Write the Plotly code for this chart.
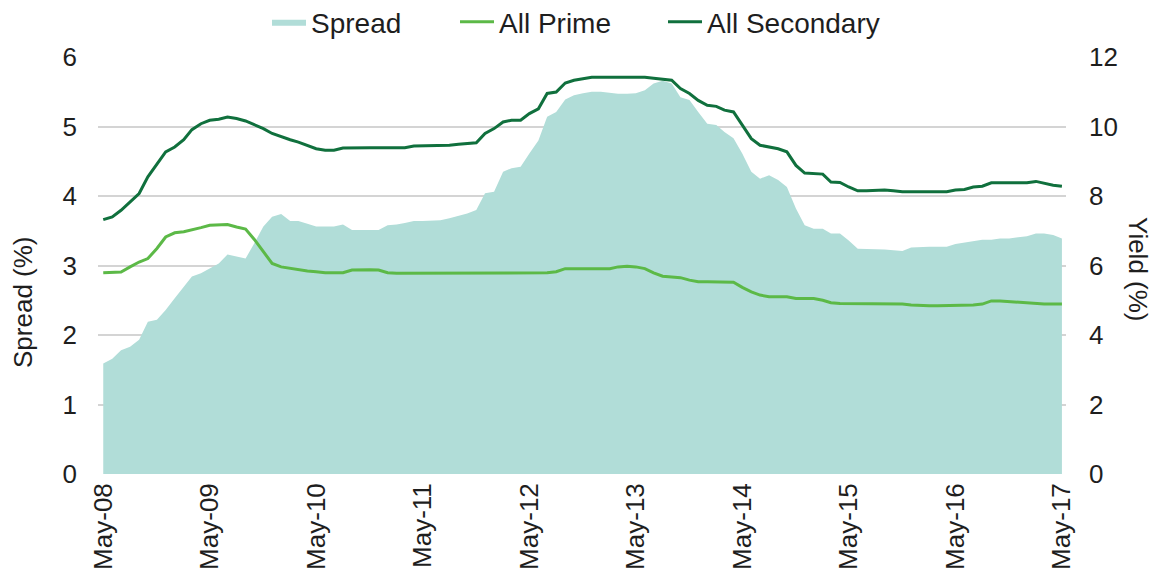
import pandas as pd
import plotly.graph_objects as go

# Monthly observations, May-2008 .. May-2017
months = pd.date_range("2008-05-01", periods=109, freq="MS")

spread = [
    1.59, 1.66, 1.78, 1.83, 1.93, 2.19, 2.22, 2.36, 2.53, 2.69, 2.84, 2.89, 2.96, 3.03, 3.16, 3.13, 3.10, 3.32, 3.56, 3.70, 3.74, 3.64,
    3.64, 3.60, 3.56, 3.56, 3.56, 3.59, 3.51, 3.51, 3.51, 3.51, 3.58, 3.59, 3.61, 3.64, 3.64, 3.64, 3.65, 3.68, 3.71, 3.75, 3.80, 4.04,
    4.06, 4.35, 4.40, 4.42, 4.61, 4.80, 5.14, 5.21, 5.39, 5.45, 5.48, 5.50, 5.50, 5.48, 5.47, 5.47, 5.48, 5.52, 5.62, 5.66, 5.62, 5.42,
    5.38, 5.21, 5.04, 5.02, 4.92, 4.83, 4.61, 4.35, 4.25, 4.30, 4.23, 4.13, 3.82, 3.58, 3.53, 3.53, 3.46, 3.46, 3.36, 3.24, 3.24, 3.24,
    3.23, 3.22, 3.21, 3.26, 3.27, 3.27, 3.27, 3.27, 3.31, 3.33, 3.36, 3.37, 3.37, 3.39, 3.39, 3.40, 3.42, 3.46, 3.46, 3.44, 3.39,
]

all_prime = [
    5.79, 5.79, 5.81, 5.96, 6.10, 6.20, 6.49, 6.82, 6.94, 6.97, 7.02, 7.09, 7.16, 7.18, 7.18, 7.11, 7.05, 6.75, 6.39, 6.06, 5.96, 5.92,
    5.87, 5.84, 5.82, 5.79, 5.79, 5.79, 5.87, 5.88, 5.88, 5.87, 5.79, 5.78, 5.78, 5.78, 5.78, 5.78, 5.78, 5.78, 5.78, 5.78, 5.77, 5.77,
    5.77, 5.77, 5.77, 5.77, 5.77, 5.77, 5.79, 5.82, 5.91, 5.91, 5.91, 5.91, 5.91, 5.91, 5.96, 5.98, 5.96, 5.91, 5.79, 5.69, 5.67, 5.65,
    5.58, 5.53, 5.53, 5.53, 5.53, 5.52, 5.37, 5.24, 5.15, 5.10, 5.10, 5.10, 5.05, 5.05, 5.05, 5.00, 4.93, 4.91, 4.91, 4.91, 4.91, 4.91,
    4.91, 4.91, 4.89, 4.86, 4.84, 4.84, 4.84, 4.84, 4.84, 4.84, 4.86, 4.89, 4.98, 4.98, 4.96, 4.94, 4.93, 4.91, 4.89, 4.89, 4.89,
]

all_secondary = [
    7.32, 7.40, 7.59, 7.83, 8.07, 8.55, 8.93, 9.27, 9.41, 9.62, 9.91, 10.08, 10.18, 10.21, 10.27, 10.23, 10.16, 10.06, 9.94, 9.80, 9.70, 9.62,
    9.55, 9.46, 9.36, 9.32, 9.32, 9.38, 9.39, 9.39, 9.39, 9.39, 9.39, 9.39, 9.39, 9.44, 9.44, 9.44, 9.44, 9.46, 9.49, 9.51, 9.53, 9.80,
    9.94, 10.13, 10.18, 10.18, 10.37, 10.51, 10.95, 10.99, 11.25, 11.33, 11.38, 11.42, 11.42, 11.42, 11.42, 11.42, 11.42, 11.42, 11.39, 11.35, 11.33, 11.09,
    10.95, 10.75, 10.61, 10.58, 10.47, 10.42, 10.03, 9.65, 9.46, 9.41, 9.36, 9.27, 8.88, 8.66, 8.65, 8.63, 8.40, 8.39, 8.26, 8.15, 8.15, 8.16,
    8.17, 8.15, 8.12, 8.12, 8.12, 8.12, 8.12, 8.12, 8.17, 8.19, 8.26, 8.28, 8.38, 8.38, 8.38, 8.38, 8.38, 8.42, 8.36, 8.31, 8.28,
]

tick_dates = pd.date_range("2008-05-01", "2017-05-01", freq="12MS")
tick_labels = ["May-08", "May-09", "May-10", "May-11", "May-12",
               "May-13", "May-14", "May-15", "May-16", "May-17"]

FONT = "Liberation Sans, Arial, sans-serif"
TXT = "#1e1e1e"
W, H = 1150, 571  # page body has an 8px margin


def legend_at(px):
    return dict(
        orientation="h", xref="container", x=px / W, xanchor="left",
        yref="container", y=1 - 14 / H, yanchor="middle",
        font=dict(family=FONT, size=28, color=TXT), bgcolor="rgba(0,0,0,0)",
        itemwidth=34,
    )


fig = go.Figure()
fig.add_trace(go.Scatter(
    x=months, y=spread, name="Spread", mode="lines",
    line=dict(width=0, color="#b1ddd8"), fill="tozeroy", fillcolor="#b1ddd8",
    yaxis="y", legend="legend",
))
fig.add_trace(go.Scatter(
    x=months, y=all_prime, name="All Prime", mode="lines",
    line=dict(width=3, color="#5cb947"), yaxis="y2", legend="legend2",
))
fig.add_trace(go.Scatter(
    x=months, y=all_secondary, name="All Secondary", mode="lines",
    line=dict(width=3, color="#10703d"), yaxis="y2", legend="legend3",
))

fig.update_layout(
    width=W, height=H,
    margin=dict(l=90, r=92, t=49, b=105, autoexpand=False),
    paper_bgcolor="white", plot_bgcolor="white",
    font=dict(family=FONT, size=26, color=TXT),
    showlegend=True,
    legend=legend_at(259),
    legend2=legend_at(447),
    legend3=legend_at(655),
    xaxis=dict(
        range=["2008-04-13", "2017-05-15"],
        tickvals=tick_dates, ticktext=tick_labels, tickangle=-90,
        showgrid=False, zeroline=False, showline=False,
        ticks="", ticklabelstandoff=3, automargin=False,
        tickfont=dict(size=26, color=TXT),
    ),
    yaxis=dict(
        range=[0, 6], dtick=1, tick0=0,
        showgrid=True, gridcolor="#d4d4d4", gridwidth=2,
        zeroline=False, showline=False, ticks="",
        ticklabelstandoff=20, automargin=False,
        tickfont=dict(size=26, color=TXT),
    ),
    yaxis2=dict(
        range=[0, 12], dtick=2, tick0=0,
        overlaying="y", side="right",
        showgrid=False, zeroline=False, showline=False, ticks="",
        ticklabelstandoff=22, automargin=False,
        tickfont=dict(size=26, color=TXT),
    ),
    annotations=[
        dict(
            text="Spread (%)", textangle=-90,
            xref="paper", yref="paper", x=0.0, y=(466 - 294) / 417,
            xshift=-75, xanchor="center", yanchor="middle",
            showarrow=False, font=dict(size=26, color=TXT),
        ),
        dict(
            text="Yield (%)", textangle=90,
            xref="paper", yref="paper", x=1.0, y=(466 - 261) / 417,
            xshift=72, xanchor="center", yanchor="middle",
            showarrow=False, font=dict(size=26, color=TXT),
        ),
    ],
)

fig.write_html("out.html")
